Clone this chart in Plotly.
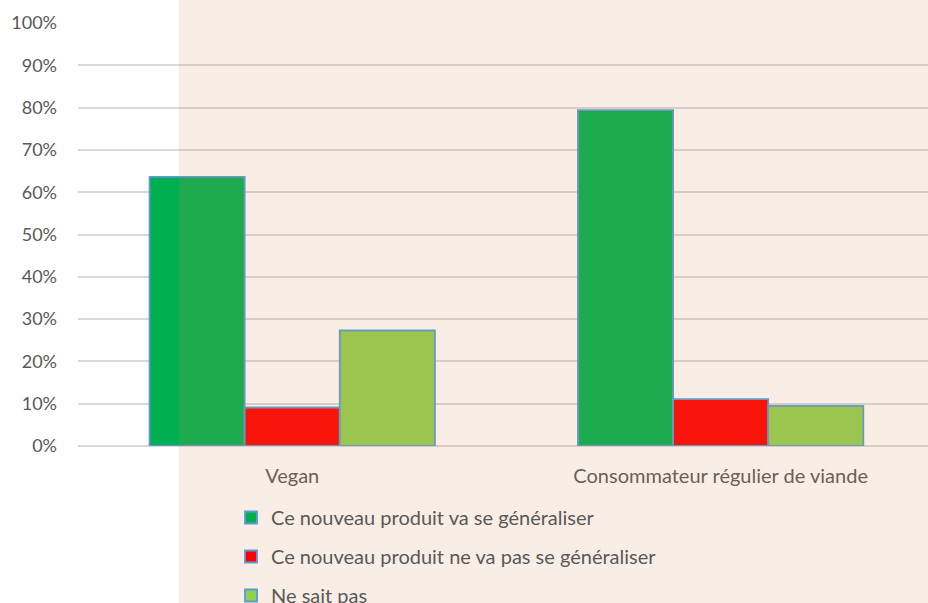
import plotly.graph_objects as go

categories = ["Vegan", "Consommateur régulier de viande"]
series_names = [
    "Ce nouveau produit va se généraliser",
    "Ce nouveau produit ne va pas se généraliser",
    "Ne sait pas",
]
va_generaliser = [0.636, 0.794]
ne_va_pas = [0.091, 0.111]
ne_sait_pas = [0.273, 0.095]
colors = ["#00B050", "#FF0000", "#92D050"]
y_ticks = [i / 10 for i in range(11)]

fig = go.Figure()
for i, (name, vals) in enumerate(zip(series_names, [va_generaliser, ne_va_pas, ne_sait_pas])):
    fig.add_trace(go.Bar(
        x=categories, y=vals, name=name,
        marker=dict(color=colors[i], line=dict(color="#5B9BD5", width=1.8)),
        legendgroup=f"g{i}",
    ))

FONT = "Lato, 'Open Sans', sans-serif"
GREY = "#595959"
fig.update_layout(
    width=928, height=603,
    margin=dict(l=78, r=0, t=23, b=157, autoexpand=False),
    paper_bgcolor="white", plot_bgcolor="white",
    barmode="group", bargap=0.334, bargroupgap=0,
    font=dict(family=FONT, size=20, color=GREY),
    showlegend=True,
    legend=dict(
        orientation="v", xref="container", yref="container",
        x=231/928, y=1-498/603, xanchor="left", yanchor="top",
        bgcolor="rgba(0,0,0,0)", tracegroupgap=10,
        font=dict(family=FONT, size=20, color=GREY),
        traceorder="grouped",
    ),
    xaxis=dict(showgrid=False, showline=False, ticks="", ticklabelstandoff=16,
               tickangle=0, automargin=False, range=[-0.5, 1.484],
               tickfont=dict(size=20, color=GREY)),
    yaxis=dict(range=[0, 1], tickvals=y_ticks, tickformat=".0%", showgrid=True,
               gridcolor="#D9D9D9", gridwidth=1.8, zeroline=True,
               zerolinecolor="#D9D9D9", zerolinewidth=1.8, showline=False,
               ticks="", ticklabelstandoff=20, automargin=False,
               tickfont=dict(size=18, color=GREY)),
    shapes=[dict(type="rect", xref="paper", yref="paper",
                 x0=(179-78)/850, x1=1.1, y0=-0.6, y1=1.2,
                 fillcolor="rgba(207,138,76,0.145)", line=dict(width=0),
                 layer="above")],
)
fig.write_html("out.html", config={"displayModeBar": False},
               post_script="document.body.style.margin='0';")
